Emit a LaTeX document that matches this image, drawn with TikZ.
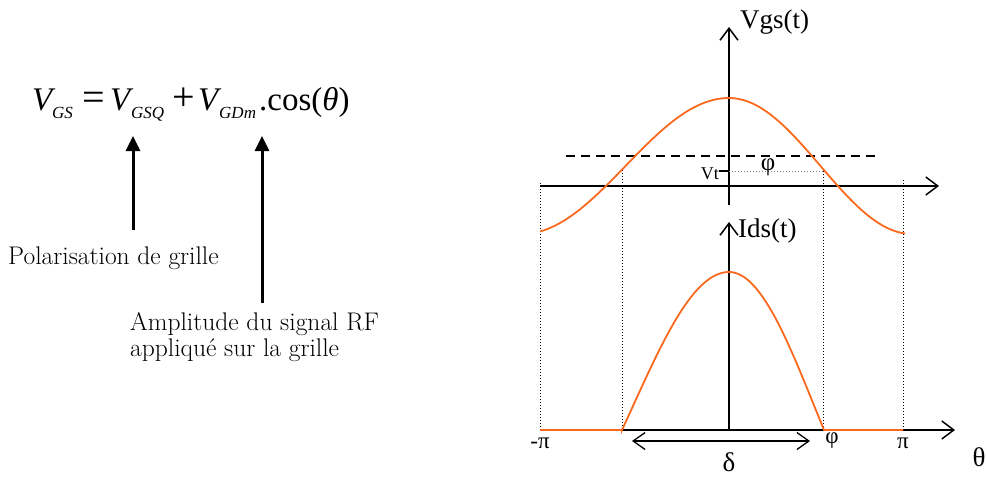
\documentclass[tikz,border=0pt]{standalone}
\usepackage{fontspec}
\usetikzlibrary{arrows.meta}

\newfontfamily\tms{Liberation Serif}
\definecolor{curveorange}{RGB}{250,105,30}

\tikzset{
	axis/.style={line width=1.5pt, -{Straight Barb[length=12pt,width=18pt,line width=1.5pt]}},
	guide/.style={line width=1pt, dotted},
	signal/.style={line width=1.8pt, curveorange},
	pointer/.style={line width=3pt, -{Triangle[length=15pt,width=14pt]}},
	lbl/.style={font=\tms\fontsize{27}{30}\selectfont, inner sep=0pt},
	eqpart/.style={font=\tms\fontsize{33}{36}\selectfont\itshape, inner sep=0pt, anchor=base west},
	eqsub/.style={font=\tms\fontsize{17}{20}\selectfont\itshape, inner sep=0pt, anchor=base west},
	eqop/.style={font=\tms\fontsize{40}{44}\selectfont, inner sep=0pt, anchor=base west},
	note/.style={font=\fontsize{25.5}{26}\selectfont, inner sep=0pt, anchor=base west, align=left},
}

\begin{document}
\begin{tikzpicture}[x=1pt, y=-1pt]
		\useasboundingbox (0,0) rectangle (987,477);
		
		% Equation
		\node[eqpart] (v1) at (32,110) {V};
		\node[eqsub] (s1) at (52,118) {GS};
		\node[eqop] (eqsign) at (82,110) {=};
		\node[eqpart] (v2) at (110,110) {V};
		\node[eqsub] (s2) at (131,118) {GSQ};
		\node[eqop] (plus) at (172,110) {+};
		\node[eqpart] (v3) at (198,110) {V};
		\node[eqsub] (s3) at (219,118) {GDm};
		\node[eqpart, font=\tms\fontsize{33}{36}\selectfont] (cosine) at (259,110) {.cos(\textit{θ})};
		
		% Pointers to the terms
		\coordinate (gsq) at (133,136);
		\coordinate (gdm) at (262,136);
		\coordinate (pol tail) at (133,230);
		\coordinate (amp tail) at (262,303);
		\draw[pointer] (pol tail) -- (gsq);
		\draw[pointer] (amp tail) -- (gdm);
		
		\node[note] (pol) at (8,264) {Polarisation de grille};
		\node[note] (amp) at (130,356) {Amplitude du signal RF\\appliqué sur la grille};
		
		% Vgs axes
		\coordinate (v bottom) at (729,205);
		\coordinate (v top) at (729,27);
		\coordinate (t left) at (540,186);
		\coordinate (t right) at (939,186);
		\draw[axis] (v bottom) -- (v top);
		\draw[axis] (t left) -- (t right);
		\node[lbl, anchor=west] (vgs) at (740,22) {Vgs(t)};
		
		% Threshold
		\draw[line width=1.5pt, dash pattern=on 9pt off 6pt] (566,156) -- (875,156);
		\coordinate (vt) at (729,171);
		\coordinate (vt end) at (823,171);
		\draw[line width=1.5pt] (719,171) -- (vt);
		\draw[guide, gray, line width=0.9pt] (vt) -- (vt end);
		\node[font=\tms\fontsize{18}{19}\selectfont, inner sep=0pt, anchor=east] (vt lbl) at (719,174) {Vt};
		\node[lbl, font=\tms\fontsize{25}{27}\selectfont] (phi up) at (768,167) {φ};
		
		% Ids axes
		\coordinate (i bottom) at (729,430);
		\coordinate (i top) at (729,222);
		\coordinate (th left) at (540,430);
		\coordinate (th right) at (955,430);
		\draw[axis] (i bottom) -- (i top);
		\draw[axis] (th left) -- (th right);
		\node[lbl, anchor=west] (ids) at (738,231) {Ids(t)};
		
		% Dotted guides
		\foreach \xa/\ya in {540/183, 622/170, 823/171, 903/180}
		\draw[guide] (\xa,\ya) -- (\xa,430);
		
		% Vgs signal
		\draw[signal] plot[domain=-189:0, samples=50] ({729+\x},{166-68*cos(\x/207*180)})
		-- plot[domain=0:176, samples=50] ({729+\x},{166-68*cos(\x/183*180)});
		
		% Ids signal
		\draw[signal] (540,430) -- (622,430)
		-- plot[domain=-107:0, samples=40] ({729+\x},{430-158*(cos(\x/107*100)+0.1736)/1.1736})
		-- plot[domain=0:95, samples=40] ({729+\x},{430-158*(cos(\x/95*100)+0.1736)/1.1736})
		-- (903,430);
		
		% Conduction angle
		\coordinate (d left) at (632,441);
		\coordinate (d right) at (810,441);
		\draw[line width=1.3pt, {Straight Barb[length=12pt,width=17pt]}-{Straight Barb[length=12pt,width=17pt]}] (d left) -- (d right);
		\node[lbl] (delta) at (729,462) {δ};
		
		% Angle labels
		\node[lbl, font=\tms\fontsize{23}{25}\selectfont] (mpi) at (540,443) {-π};
		\node[lbl, font=\tms\fontsize{23}{25}\selectfont] (phi) at (832,441) {φ};
		\node[lbl, font=\tms\fontsize{23}{25}\selectfont] (pi) at (903,443) {π};
		\node[lbl] (theta) at (979,457) {θ};
		
	\end{tikzpicture}
\end{document}
